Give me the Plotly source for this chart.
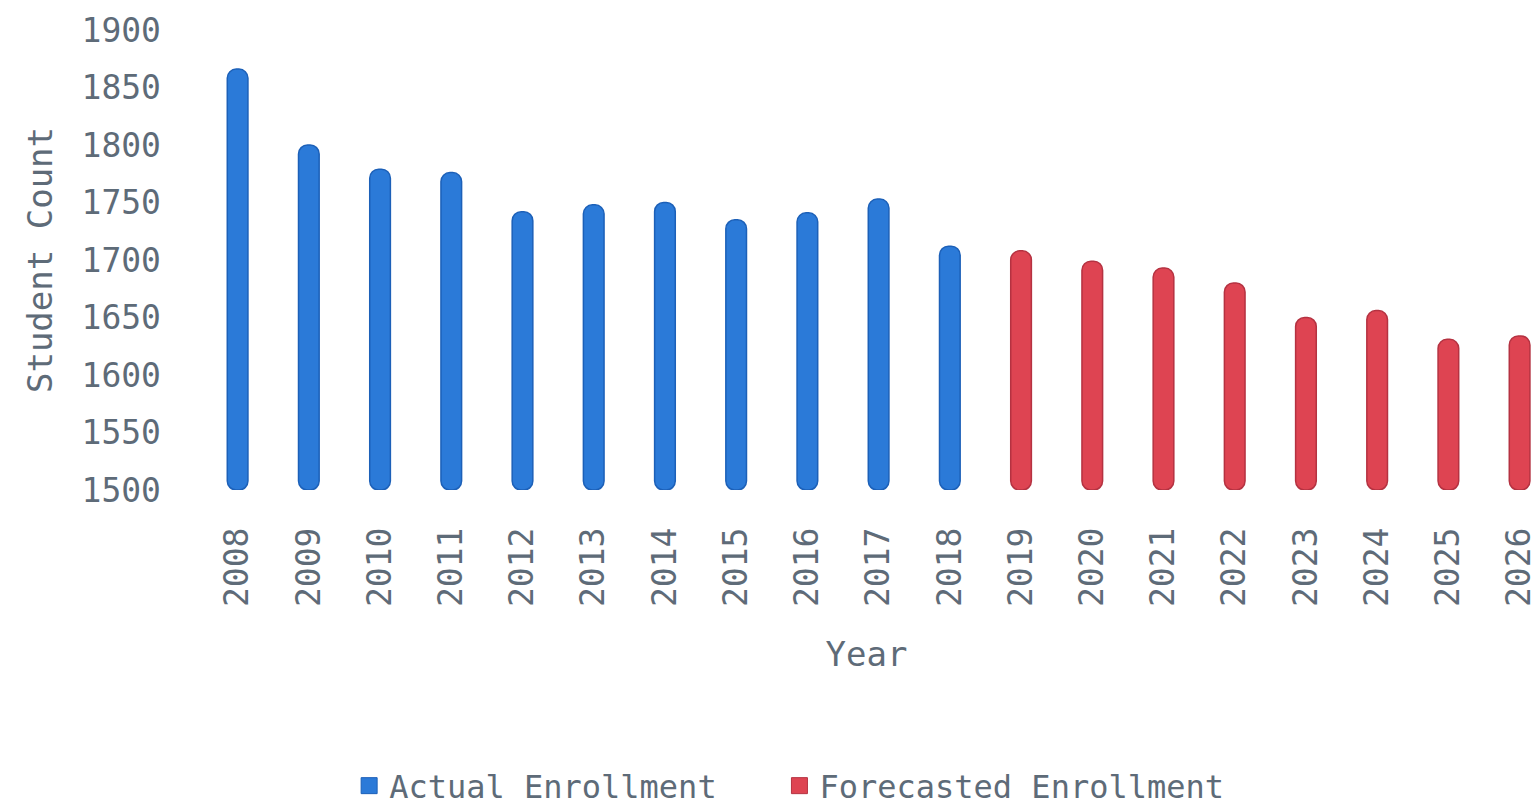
import plotly.graph_objects as go

# Enrollment by year: recorded values and projection
actual_years = ["2008", "2009", "2010", "2011", "2012", "2013", "2014",
                "2015", "2016", "2017", "2018"]
actual_counts = [1866, 1800, 1779, 1776, 1742, 1748, 1750, 1735, 1741, 1753, 1712]

forecast_years = ["2019", "2020", "2021", "2022", "2023", "2024", "2025", "2026"]
forecast_counts = [1708, 1699, 1693, 1680, 1650, 1656, 1631, 1634]

all_years = actual_years + forecast_years
y_ticks = [1500, 1550, 1600, 1650, 1700, 1750, 1800, 1850, 1900]

BLUE = "#2b7ad8"
BLUE_EDGE = "#1c60b8"
RED = "#de4452"
RED_EDGE = "#b53241"
TEXT = "#5e6b78"
FONT = "DejaVu Sans Mono"
PAD = "\u00a0\u00a0\u00a0"  # extra room between legend entries

fig = go.Figure()

fig.add_trace(go.Bar(
    x=actual_years, y=[v - 1500 for v in actual_counts], base=1500,
    name="Actual Enrollment", width=0.29, showlegend=False,
    marker=dict(color=BLUE, line=dict(color=BLUE_EDGE, width=1.5), cornerradius=9),
))
fig.add_trace(go.Bar(
    x=forecast_years, y=[v - 1500 for v in forecast_counts], base=1500,
    name="Forecasted Enrollment", width=0.29, showlegend=False,
    marker=dict(color=RED, line=dict(color=RED_EDGE, width=1.5), cornerradius=9),
))

# legend swatches
for name, col, edge in [("Actual Enrollment" + PAD, BLUE, BLUE_EDGE),
                        ("Forecasted Enrollment", RED, RED_EDGE)]:
    fig.add_trace(go.Scatter(
        x=[None], y=[None], mode="markers", name=name,
        marker=dict(symbol="square", size=17, color=col, line=dict(color=edge, width=1)),
    ))

fig.update_layout(
    width=1538, height=806,
    margin=dict(l=202, r=0, t=30, b=316),
    plot_bgcolor="white", paper_bgcolor="white",
    barmode="overlay",
    font=dict(family=FONT, color=TEXT, size=33),
    xaxis=dict(
        type="category", categoryorder="array", categoryarray=all_years,
        range=[-0.5, 18.16], tickangle=-90, showgrid=False, zeroline=False,
        showline=False, ticks="", ticklabelstandoff=30,
        tickfont=dict(size=33, color=TEXT),
        title=dict(text="Year", font=dict(size=34, color=TEXT), standoff=36),
    ),
    yaxis=dict(
        range=[1500, 1900], tickvals=y_ticks, showgrid=False, zeroline=False,
        showline=False, ticks="", ticklabelstandoff=40,
        tickfont=dict(size=33, color=TEXT),
        title=dict(text="Student Count", font=dict(size=34, color=TEXT), standoff=18),
    ),
    legend=dict(
        orientation="h", xref="container", yref="container",
        x=0.227, xanchor="left", y=0.025, yanchor="middle",
        font=dict(size=32, color=TEXT), itemwidth=30,
        tracegroupgap=0,
    ),
)

fig.write_html("out.html")
